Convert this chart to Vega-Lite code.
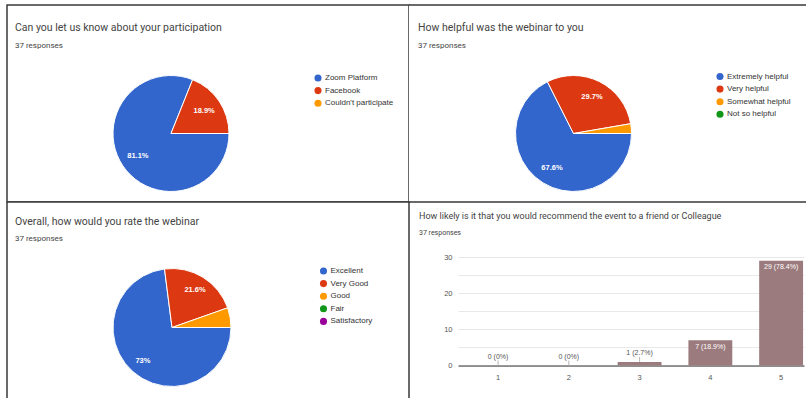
{
  "$schema": "https://vega.github.io/schema/vega-lite/v6.json",
  "background": "white",
  "padding": {"left": 6, "top": 4, "right": 0, "bottom": 0},
  "config": {
    "view": {"stroke": "#3a3a3a", "strokeWidth": 1.5},
    "font": "Liberation Sans",
    "title": {"font": "Roboto", "subtitleFont": "Roboto", "fontWeight": "normal", "color": "#444", "subtitleColor": "#444", "anchor": "start", "frame": "group", "offset": 0},
    "legend": {"orient": "none", "title": null, "symbolType": "circle", "symbolSize": 50, "symbolStrokeWidth": 0, "labelFontSize": 8, "labelColor": "#333", "labelFont": "Liberation Sans", "rowPadding": 4.6, "labelOffset": 3, "padding": 0}
  },
  "columns": 2,
  "spacing": 0,
  "bounds": "flush",
  "align": "each",
  "resolve": {"scale": {"color": "independent", "theta": "independent", "x": "independent", "y": "independent"}, "legend": {"color": "independent"}},
  "concat": [
    {
      "width": 402,
      "height": 197,
      "view": {"stroke": "#3a3a3a", "strokeWidth": 1.5, "fill": "white"},
      "title": {"text": "Can you let us know about your participation", "subtitle": "37 responses", "fontSize": 10.5, "subtitleFontSize": 8, "subtitlePadding": 8, "dx": 8, "dy": 48.5},
      "data": {"values": [
        {"option": "Zoom Platform", "count": 30, "label": "81.1%"},
        {"option": "Facebook", "count": 7, "label": "18.9%"},
        {"option": "Couldn't participate", "count": 0, "label": ""}
      ]},
      "transform": [{"filter": "datum.count > 0"}],
      "encoding": {
        "theta": {"field": "count", "type": "quantitative", "stack": true, "scale": {"range": [1.5708, 7.854]}},
        "order": {"field": "count", "sort": "descending"}
      },
      "layer": [
        {
          "mark": {"type": "arc", "radius": 58, "xOffset": -37, "yOffset": 30, "stroke": "white", "strokeWidth": 1},
          "encoding": {
            "color": {"field": "option", "type": "nominal", "scale": {"domain": ["Zoom Platform", "Facebook", "Couldn't participate"], "range": ["#3366cc", "#dc3912", "#ff9900"]}, "legend": {"legendX": 307, "legendY": 69}}
          }
        },
        {
          "mark": {"type": "text", "radius": 40, "xOffset": -37, "yOffset": 30, "fill": "white", "fontSize": 7.5, "fontWeight": "bold"},
          "encoding": {"text": {"field": "label"}}
        }
      ]
    },
    {
      "width": 398,
      "height": 197,
      "view": {"stroke": "#3a3a3a", "strokeWidth": 1.5, "fill": "white", "strokeDash": [398, 197, 398, 197]},
      "title": {"text": "How helpful was the webinar to you", "subtitle": "37 responses", "fontSize": 10.5, "subtitleFontSize": 8, "subtitlePadding": 8, "dx": 9, "dy": 48.5},
      "data": {"values": [
        {"option": "Extremely helpful", "count": 25, "label": "67.6%"},
        {"option": "Very helpful", "count": 11, "label": "29.7%"},
        {"option": "Somewhat helpful", "count": 1, "label": ""},
        {"option": "Not so helpful", "count": 0, "label": ""}
      ]},
      "transform": [{"filter": "datum.count > 0"}],
      "encoding": {
        "theta": {"field": "count", "type": "quantitative", "stack": true, "scale": {"range": [1.5708, 7.854]}},
        "order": {"field": "count", "sort": "descending"}
      },
      "layer": [
        {
          "mark": {"type": "arc", "radius": 58, "xOffset": -34.5, "yOffset": 30, "stroke": "white", "strokeWidth": 1},
          "encoding": {
            "color": {"field": "option", "type": "nominal", "scale": {"domain": ["Extremely helpful", "Very helpful", "Somewhat helpful", "Not so helpful"], "range": ["#3366cc", "#dc3912", "#ff9900", "#109618"]}, "legend": {"legendX": 307, "legendY": 67.5}}
          }
        },
        {
          "mark": {"type": "text", "radius": 41, "xOffset": -34.5, "yOffset": 30, "fill": "white", "fontSize": 7.5, "fontWeight": "bold"},
          "encoding": {"text": {"field": "label"}}
        }
      ]
    },
    {
      "width": 402,
      "height": 197,
      "view": {"stroke": "#3a3a3a", "strokeWidth": 1.5, "fill": "white", "strokeDash": [599, 402, 197, 0]},
      "title": {"text": "Overall, how would you rate the webinar", "subtitle": "37 responses", "fontSize": 10.5, "subtitleFontSize": 8, "subtitlePadding": 8, "dx": 8, "dy": 45},
      "data": {"values": [
        {"option": "Excellent", "count": 27, "label": "73%"},
        {"option": "Very Good", "count": 8, "label": "21.6%"},
        {"option": "Good", "count": 2, "label": ""},
        {"option": "Fair", "count": 0, "label": ""},
        {"option": "Satisfactory", "count": 0, "label": ""}
      ]},
      "transform": [{"filter": "datum.count > 0"}],
      "encoding": {
        "theta": {"field": "count", "type": "quantitative", "stack": true, "scale": {"range": [1.5708, 7.854]}},
        "order": {"field": "count", "sort": "descending"}
      },
      "layer": [
        {
          "mark": {"type": "arc", "radius": 59, "xOffset": -36, "yOffset": 27, "stroke": "white", "strokeWidth": 1},
          "encoding": {
            "color": {"field": "option", "type": "nominal", "scale": {"domain": ["Excellent", "Very Good", "Good", "Fair", "Satisfactory"], "range": ["#3366cc", "#dc3912", "#ff9900", "#109618", "#990099"]}, "legend": {"legendX": 312.5, "legendY": 65}}
          }
        },
        {
          "mark": {"type": "text", "radius": 44, "xOffset": -36, "yOffset": 27, "fill": "white", "fontSize": 7.5, "fontWeight": "bold"},
          "encoding": {"text": {"field": "label"}}
        }
      ]
    },
    {
      "width": 398,
      "height": 197,
      "view": {"stroke": null},
      "title": {"text": "How likely is it that you would recommend the event to a friend or Colleague", "subtitle": "37 responses", "fontSize": 9, "subtitleFontSize": 7, "subtitlePadding": 8, "dx": 10, "dy": 37.5},
      "data": {"values": [
        {"rating": "1", "count": 0, "label": "0 (0%)"},
        {"rating": "2", "count": 0, "label": "0 (0%)"},
        {"rating": "3", "count": 1, "label": "1 (2.7%)"},
        {"rating": "4", "count": 7, "label": "7 (18.9%)"},
        {"rating": "5", "count": 29, "label": "29 (78.4%)"}
      ]},
      "encoding": {
        "x": {"field": "rating", "type": "ordinal", "scale": {"type": "band", "range": [49, 395], "paddingInner": 0.38, "paddingOuter": 0.135, "align": 0.95},
          "axis": {"title": null, "orient": "bottom", "offset": -33.5, "labelAngle": 0, "ticks": false, "domainColor": "#333", "domainWidth": 1, "labelPadding": 8, "labelFontSize": 7.5, "labelColor": "#555", "grid": false}},
        "y": {"field": "count", "type": "quantitative", "scale": {"domain": [0, 30], "range": [163.5, 55.2], "nice": false, "zero": true},
          "axis": {"title": null, "offset": -49, "values": [0, 5, 10, 15, 20, 25, 30], "labelExpr": "datum.value % 10 === 0 ? datum.label : ''", "ticks": false, "domain": false, "labelPadding": 6, "labelFontSize": 7.5, "labelColor": "#555", "gridColor": "#e8e8e8"}}
      },
      "layer": [
        {"mark": {"type": "bar", "color": "#9b7b7d"}},
        {
          "transform": [{"filter": "datum.count < 5"}],
          "mark": {"type": "rule", "color": "#b5b5b5", "strokeWidth": 1, "y2Offset": -5},
          "encoding": {"y2": {"field": "count"}}
        },
        {
          "transform": [{"filter": "datum.count < 5"}],
          "mark": {"type": "text", "baseline": "bottom", "dy": -6, "fontSize": 7, "color": "#555"},
          "encoding": {"text": {"field": "label"}}
        },
        {
          "transform": [{"filter": "datum.count >= 5"}],
          "mark": {"type": "text", "baseline": "top", "dy": 2.5, "fontSize": 7, "color": "white"},
          "encoding": {"text": {"field": "label"}}
        }
      ]
    }
  ]
}
